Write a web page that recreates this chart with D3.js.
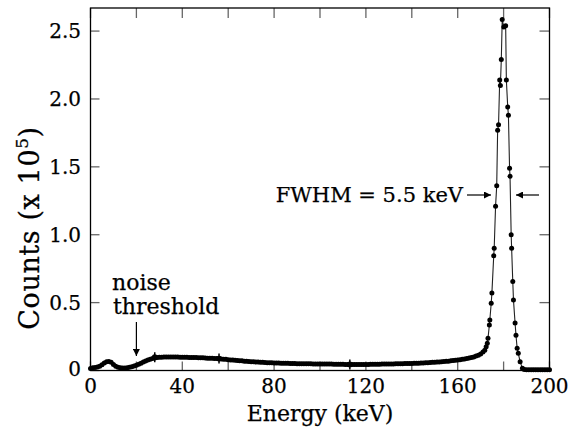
<!DOCTYPE html>
<html><head><meta charset="utf-8">
<script src="https://cdn.jsdelivr.net/npm/d3@7"></script>
<style>body{margin:0;background:#fff}svg{display:block}text{font-family:"DejaVu Serif",serif;fill:#000;stroke:#000;stroke-width:0.25px}</style>
</head><body>
<svg id="c" width="571" height="434"></svg>
<script>
// ---- data (energy in keV, counts in units of 10^5) ----
const flatCounts = [
0.015,0.02,0.022,0.025,0.032,0.042,0.055,0.064,0.066,0.06,
0.045,0.032,0.024,0.02,0.019,0.019,0.021,0.024,0.028,0.033,
0.039,0.046,0.054,0.062,0.07,0.077,0.083,0.088,0.092,0.095,
0.097,0.098,0.099,0.1,0.1,0.1,0.099,0.1,0.099,0.098,
0.098,0.097,0.097,0.096,0.096,0.095,0.095,0.094,0.093,0.093,
0.092,0.091,0.09,0.09,0.089,0.088,0.087,0.085,0.083,0.082,
0.08,0.078,0.077,0.075,0.074,0.072,0.071,0.069,0.068,0.066,
0.065,0.064,0.063,0.062,0.061,0.06,0.059,0.058,0.057,0.057,
0.056,0.055,0.055,0.054,0.054,0.053,0.053,0.052,0.052,0.051,
0.05,0.05,0.05,0.049,0.049,0.049,0.049,0.048,0.048,0.048,
0.048,0.047,0.047,0.047,0.047,0.047,0.046,0.046,0.046,0.046,
0.046,0.045,0.045,0.045,0.045,0.045,0.045,0.045,0.045,0.045,
0.045,0.045,0.046,0.046,0.046,0.046,0.046,0.047,0.047,0.047,
0.047,0.048,0.048,0.049,0.049,0.05,0.05,0.051,0.051,0.052,
0.052,0.053,0.054,0.054,0.055,0.056,0.057,0.058,0.059,0.06,
0.061,0.062,0.063,0.065,0.066,0.068,0.069,0.071,0.073,0.075,
0.077,0.079,0.082,0.085,0.088,0.092,0.096,0.1,0.106,0.113,
0.122,0.136];
const flatEnergy = d3.range(0, flatCounts.length); // channel energies 0..171 keV
const peakEnergy = [171.8,172.4,172.9,173.2,173.8,174.0,174.6,174.9,175.7,175.9,
  176.5,177.0,177.4,177.8,178.3,178.6,179.0,179.4,180.1,180.9,
  181.2,181.8,182.1,182.6,182.8,183.3,183.5,184.0,184.3,185.0,
  185.4,185.9,186.4,187.2,188.2,189,190,191,192,193,194,195,196,197,198,199,200];
const peakCounts = [0.15,0.175,0.2,0.237,0.335,0.372,0.495,0.57,0.845,0.9,
  1.21,1.36,1.77,1.81,2.14,2.1,2.29,2.585,2.53,2.54,
  2.14,1.94,1.88,1.49,1.43,1.0,0.9,0.655,0.52,0.35,
  0.26,0.164,0.127,0.065,0.016,0.008,0.006,0.005,0.005,0.005,0.005,0.005,0.005,0.005,0.005,0.005,0.005];
const markerEnergy = [28, 56, 113];
const markerCounts = [0.098, 0.088, 0.045];
const xTicks = [0,20,40,60,80,100,120,140,160,180,200];
const xTickLabels = ["0","","40","","80","","120","","160","","200"];
const yTicks = [0,0.5,1.0,1.5,2.0,2.5];
const yTickLabels = ["0","0.5","1.0","1.5","2.0","2.5"];

const energy = flatEnergy.concat(peakEnergy);
const counts = flatCounts.concat(peakCounts);
const data = energy.map((e,i)=>({e, c:counts[i]}));

const svg = d3.select("#c");
const L=90.5, R=549.5, T=8, B=370.5;
const x = d3.scaleLinear().domain([0,200]).range([L,R]);
const y = d3.scaleLinear().domain([0,2.67]).range([B,T]);

const tickCol = "#666";
const g = svg.append("g");
xTicks.forEach(t=>{
  g.append("line").attr("x1",x(t)).attr("x2",x(t)).attr("y1",B).attr("y2",B-9).attr("stroke",tickCol).attr("stroke-width",1.3);
  g.append("line").attr("x1",x(t)).attr("x2",x(t)).attr("y1",T).attr("y2",T+10).attr("stroke",tickCol).attr("stroke-width",1.3);
});
yTicks.forEach(t=>{
  g.append("line").attr("x1",L).attr("x2",L+9).attr("y1",y(t)).attr("y2",y(t)).attr("stroke",tickCol).attr("stroke-width",1.3);
  g.append("line").attr("x1",R).attr("x2",R-10).attr("y1",y(t)).attr("y2",y(t)).attr("stroke",tickCol).attr("stroke-width",1.3);
});
svg.append("rect").attr("x",L).attr("y",T).attr("width",R-L).attr("height",B-T)
  .attr("fill","none").attr("stroke","#000").attr("stroke-width",1.3);

xTicks.forEach((t,i)=>{
  if(!xTickLabels[i]) return;
  svg.append("text").attr("x",x(t)).attr("y",393).attr("text-anchor","middle")
    .attr("font-size",20).text(xTickLabels[i]);
});
yTicks.forEach((t,i)=>{
  svg.append("text").attr("x",81).attr("y",y(t)+ (t===0? 5:7)).attr("text-anchor","end")
    .attr("font-size",20).text(yTickLabels[i]);
});

const line = d3.line().x(d=>x(d.e)).y(d=>y(d.c));
svg.append("path").datum(data).attr("d",line).attr("fill","none").attr("stroke","#222").attr("stroke-width",1.1);
svg.append("g").selectAll("circle").data(data).join("circle")
  .attr("cx",d=>x(d.e)).attr("cy",d=>y(d.c)).attr("r",2.5).attr("fill","#000");
markerEnergy.forEach((e,i)=>{
  svg.append("line").attr("x1",x(e)).attr("x2",x(e)).attr("y1",y(markerCounts[i])-5).attr("y2",y(markerCounts[i])+5).attr("stroke","#000").attr("stroke-width",1.5);
  svg.append("circle").attr("cx",x(e)).attr("cy",y(markerCounts[i])).attr("r",2.9).attr("fill","#000");
});

const defs = svg.append("defs");
defs.append("marker").attr("id","ah").attr("viewBox","0 0 10 10").attr("refX",10).attr("refY",5)
  .attr("markerWidth",9).attr("markerHeight",7).attr("markerUnits","userSpaceOnUse").attr("orient","auto")
  .append("path").attr("d","M0,0 L10,5 L0,10 z").attr("fill","#000");

svg.append("text").attr("x",463).attr("y",202).attr("text-anchor","end").attr("font-size",21).text("FWHM = 5.5 keV");
svg.append("line").attr("x1",467).attr("x2",491).attr("y1",195).attr("y2",195).attr("stroke","#000").attr("stroke-width",1.2).attr("marker-end","url(#ah)");
svg.append("line").attr("x1",539).attr("x2",516).attr("y1",195).attr("y2",195).attr("stroke","#000").attr("stroke-width",1.2).attr("marker-end","url(#ah)");

svg.append("text").attr("x",112).attr("y",290).attr("font-size",22).text("noise");
svg.append("text").attr("x",113).attr("y",314).attr("font-size",22).text("threshold");
svg.append("line").attr("x1",x(20)).attr("x2",x(20)).attr("y1",322).attr("y2",356).attr("stroke","#000").attr("stroke-width",1.2).attr("marker-end","url(#ah)");

svg.append("text").attr("x",320).attr("y",421).attr("text-anchor","middle").attr("font-size",22).text("Energy (keV)");
const yt = svg.append("text").attr("transform","translate(39,228) rotate(-90)").attr("text-anchor","middle").attr("font-size",27).attr("letter-spacing","0.6px");
yt.append("tspan").text("Counts (x 10");
yt.append("tspan").attr("font-size",17).attr("dy",-11).text("5");
yt.append("tspan").attr("dy",11).text(")");
</script>
</body></html>
